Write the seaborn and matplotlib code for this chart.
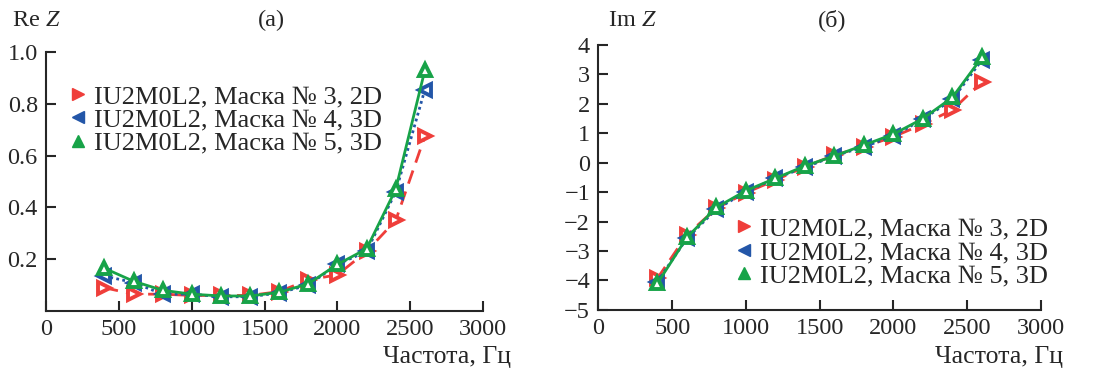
import numpy as np
import pandas as pd
import matplotlib
matplotlib.use('Agg')
import matplotlib.pyplot as plt
import seaborn as sns
from matplotlib.lines import Line2D

# Данные
freq = [400, 600, 800, 1000, 1200, 1400, 1600, 1800, 2000, 2200, 2400, 2600]
series_names = ['IU2M0L2, Маска № 3, 2D', 'IU2M0L2, Маска № 4, 3D', 'IU2M0L2, Маска № 5, 3D']

re_mask3 = [0.09, 0.065, 0.065, 0.06, 0.06, 0.06, 0.075, 0.12, 0.14, 0.23, 0.35, 0.675]
re_mask4 = [0.135, 0.11, 0.065, 0.065, 0.055, 0.055, 0.07, 0.10, 0.18, 0.23, 0.46, 0.855]
re_mask5 = [0.165, 0.115, 0.08, 0.065, 0.058, 0.058, 0.072, 0.105, 0.18, 0.24, 0.47, 0.93]

im_mask3 = [-3.93, -2.45, -1.55, -1.02, -0.59, -0.14, 0.26, 0.54, 0.88, 1.31, 1.79, 2.75]
im_mask4 = [-4.04, -2.57, -1.58, -0.99, -0.53, -0.16, 0.23, 0.54, 0.91, 1.48, 2.15, 3.49]
im_mask5 = [-4.10, -2.54, -1.52, -0.95, -0.53, -0.11, 0.23, 0.60, 0.97, 1.50, 2.22, 3.58]

colors = ['#ef3e3a', '#2356a8', '#17a348']
markers = ['>', '<', '^']
linestyles = [(0, (5, 3)), (0, (1, 1.2)), '-']

sns.set_style('ticks')
plt.rcParams['font.family'] = ['Liberation Serif', 'DejaVu Serif']
plt.rcParams['mathtext.fontset'] = 'custom'
plt.rcParams['mathtext.rm'] = 'Liberation Serif'
plt.rcParams['mathtext.it'] = 'Liberation Serif:italic'

def make_df(values):
    rows = []
    for name, vals in zip(series_names, values):
        for f, v in zip(freq, vals):
            rows.append({'freq': f, 'val': v, 'series': name})
    return pd.DataFrame(rows)

fig = plt.figure(figsize=(10.98, 3.72), dpi=100)
ax1 = fig.add_axes([0.042, 0.164, 0.398, 0.696])
ax2 = fig.add_axes([0.545, 0.167, 0.403, 0.712])

def draw(ax, df):
    for i, name in enumerate(series_names):
        sub = df[df['series'] == name]
        sns.lineplot(data=sub, x='freq', y='val', ax=ax, color=colors[i],
                     marker=markers[i], markersize=8, markerfacecolor='white',
                     markeredgecolor=colors[i], markeredgewidth=2.8,
                     linewidth=2.0, linestyle=linestyles[i], legend=False,
                     zorder=3 + i)
    for s in ['top', 'right']:
        ax.spines[s].set_visible(False)
    for s in ['left', 'bottom']:
        ax.spines[s].set_linewidth(1.5)
    ax.tick_params(direction='in', length=7, width=1.5, labelsize=17.5, pad=6)
    ax.set_xlim(0, 3000)
    ax.set_xticks([0, 500, 1000, 1500, 2000, 2500, 3000])
    ax.set_xlabel('')
    ax.set_ylabel('')

draw(ax1, make_df([re_mask3, re_mask4, re_mask5]))
ax1.set_ylim(0, 1.0)
ax1.set_yticks([0.2, 0.4, 0.6, 0.8, 1.0])
ax1.set_yticklabels(['0.2', '0.4', '0.6', '0.8', '1.0'])

draw(ax2, make_df([im_mask3, im_mask4, im_mask5]))
ax2.set_ylim(-5, 4)
ax2.set_yticks(range(-5, 5))
ax2.set_yticklabels([str(v).replace('-', '\u2212') for v in range(-5, 5)])

handles = [Line2D([], [], color=colors[i], marker=markers[i], linestyle='none',
                  markersize=9) for i in range(3)]
ax1.legend(handles, series_names, loc='upper left', bbox_to_anchor=(0.0, 0.946),
           frameon=False, fontsize=19, handletextpad=0.1, labelspacing=0.0,
           borderpad=0.2, handlelength=1.0)
ax2.legend(handles, series_names, loc='lower right', bbox_to_anchor=(1.058, 0.015),
           frameon=False, fontsize=19, handletextpad=0.1, labelspacing=0.0,
           borderpad=0.2, handlelength=1.0)

fig.text(0.011, 0.93, 'Re $Z$', fontsize=17.5)
fig.text(0.247, 0.93, '(a)', fontsize=17.5, ha='center')
fig.text(0.465, 0.025, 'Частота, Гц', fontsize=18.5, ha='right')

fig.text(0.554, 0.93, 'Im $Z$', fontsize=17.5)
fig.text(0.758, 0.93, '(б)', fontsize=17.5, ha='center')
fig.text(0.968, 0.025, 'Частота, Гц', fontsize=18.5, ha='right')

fig.savefig('out.png', dpi=100)
